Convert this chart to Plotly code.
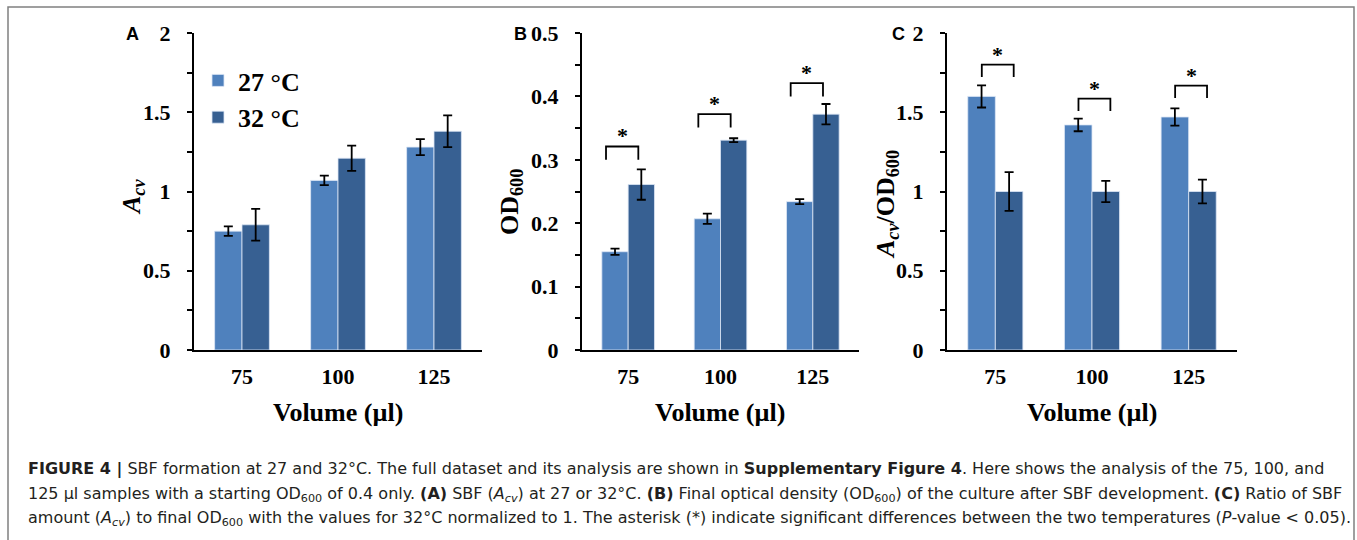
import plotly.graph_objects as go

categories = ["75", "100", "125"]
series_names = ["27 °C", "32 °C"]

# Panel A: Acv
a_27 = [0.75, 1.07, 1.28]
a_27_err = [0.03, 0.03, 0.05]
a_32 = [0.79, 1.21, 1.38]
a_32_err = [0.10, 0.08, 0.10]

# Panel B: OD600
b_27 = [0.155, 0.207, 0.234]
b_27_err = [0.005, 0.008, 0.004]
b_32 = [0.261, 0.331, 0.372]
b_32_err = [0.024, 0.003, 0.016]
b_bracket = [0.321, 0.372, 0.421]

# Panel C: Acv/OD600
c_27 = [1.60, 1.42, 1.47]
c_27_err = [0.07, 0.04, 0.054]
c_32 = [1.00, 1.00, 1.00]
c_32_err = [0.122, 0.067, 0.075]
c_bracket = [1.80, 1.586, 1.668]

W, H = 1357, 540
LIGHT = "#4F81BD"
DARK = "#376092"
SERIF = "Liberation Serif"
SANS = "Liberation Sans"
CAP_FONT = "DejaVu Sans"


def px(x):
    return x / W


def py(y):
    return 1 - y / H


fig = go.Figure()

panels = [
    dict(ax="", d27=a_27, e27=a_27_err, d32=a_32, e32=a_32_err, dom=(194, 482), rng=[0, 2], dt=0.5, mdt=0.25),
    dict(ax="2", d27=b_27, e27=b_27_err, d32=b_32, e32=b_32_err, dom=(582, 859), rng=[0, 0.5], dt=0.1, mdt=0.05),
    dict(ax="3", d27=c_27, e27=c_27_err, d32=c_32, e32=c_32_err, dom=(947, 1237), rng=[0, 2], dt=0.5, mdt=0.25),
]

for k, p in enumerate(panels):
    for name, vals, errs, col in [(series_names[0], p["d27"], p["e27"], LIGHT),
                                  (series_names[1], p["d32"], p["e32"], DARK)]:
        fig.add_trace(go.Bar(
            x=categories, y=vals, name=name,
            marker=dict(color=col, line=dict(color="rgba(220,230,245,0.8)", width=1)),
            error_y=dict(type="data", array=errs, visible=True, color="black", thickness=1.8, width=4.5),
            xaxis="x" + p["ax"], yaxis="y" + p["ax"],
            showlegend=(k == 0), legendgroup=name,
        ))

y_dom = [py(350), py(33)]
for k, p in enumerate(panels):
    xa = "xaxis" + p["ax"]
    ya = "yaxis" + p["ax"]
    fig.layout[xa] = dict(
        domain=[px(p["dom"][0]), px(p["dom"][1])], anchor="y" + p["ax"],
        type="category", categoryorder="array", categoryarray=categories,
        range=[-0.5, 2.5], showline=True, linecolor="black", linewidth=2,
        ticks="", showgrid=False, zeroline=False, automargin=False,
        tickfont=dict(family=SERIF, size=22, color="black", weight="bold"),
        ticklabelstandoff=6,
    )
    fig.layout[ya] = dict(
        domain=y_dom, anchor="x" + p["ax"], range=p["rng"], dtick=p["dt"], tick0=0,
        showline=True, linecolor="black", linewidth=2, ticks="outside", ticklen=5,
        tickwidth=1.5, tickcolor="black", showgrid=False, zeroline=False, automargin=False,
        minor=dict(dtick=p["mdt"], ticks="outside", ticklen=5, tickwidth=1.5, tickcolor="black", showgrid=False),
        tickfont=dict(family=SERIF, size=22, color="black", weight="bold"),
        ticklabelstandoff=12,
    )

shapes = []
annotations = []

# significance brackets
def add_brackets(xref, yref, tops, leg, left_off, right_off):
    for i, top in enumerate(tops):
        x0 = i + left_off
        x1 = i + right_off
        path = f"M {x0},{top - leg} L {x0},{top} L {x1},{top} L {x1},{top - leg}"
        shapes.append(dict(type="path", path=path, xref=xref, yref=yref,
                           line=dict(color="black", width=1.8)))
        annotations.append(dict(x=(x0 + x1) / 2, y=top, xref=xref, yref=yref, text="<b>*</b>",
                                showarrow=False, yanchor="bottom", yshift=-4,
                                font=dict(family=SERIF, size=22, color="black")))


add_brackets("x2", "y2", b_bracket, 0.021, -0.24, 0.11)
add_brackets("x3", "y3", c_bracket, 0.078, -0.14, 0.19)

# panel labels
for lab, x in [("A", 132), ("B", 520), ("C", 898)]:
    annotations.append(dict(x=px(x), y=py(34), xref="paper", yref="paper", text=f"<b>{lab}</b>",
                            showarrow=False, xanchor="center", yanchor="middle",
                            font=dict(family=SANS, size=18, color="black")))

# axis titles
for cx in [338, 720, 1092]:
    annotations.append(dict(x=px(cx), y=py(412), xref="paper", yref="paper",
                            text="<b>Volume (µl)</b>", showarrow=False, xanchor="center", yanchor="middle",
                            font=dict(family=SERIF, size=26, color="black")))

for txt, x, y in [("<b><i>A</i><sub><i>cv</i></sub></b>", 133, 197),
                  ("<b>OD<sub>600</sub></b>", 511, 202),
                  ("<b><i>A</i><sub><i>cv</i></sub>/OD<sub>600</sub></b>", 887, 205)]:
    annotations.append(dict(x=px(x), y=py(y), xref="paper", yref="paper", text=txt, textangle=-90,
                            showarrow=False, xanchor="center", yanchor="middle",
                            font=dict(family=SERIF, size=26, color="black")))

# caption
cap_lines = [
    "<b>FIGURE 4 |</b> SBF formation at 27 and 32°C. The full dataset and its analysis are shown in "
    "<b>Supplementary Figure 4</b>. Here shows the analysis of the 75, 100, and",
    "125 μl samples with a starting OD<sub>600</sub> of 0.4 only. <b>(A)</b> SBF (<i>A<sub>cv</sub></i>) "
    "at 27 or 32°C. <b>(B)</b> Final optical density (OD<sub>600</sub>) of the culture after SBF "
    "development. <b>(C)</b> Ratio of SBF",
    "amount (<i>A<sub>cv</sub></i>) to final OD<sub>600</sub> with the values for 32°C normalized to 1. "
    "The asterisk (*) indicate significant differences between the two temperatures (<i>P</i>-value &lt; 0.05).",
]
for line, y in zip(cap_lines, [469, 494, 518]):
    annotations.append(dict(x=px(26), y=py(y), xref="paper", yref="paper", text=line,
                            showarrow=False, xanchor="left", yanchor="middle",
                            font=dict(family=CAP_FONT, size=16, color="#231f20")))

# outer frame
shapes.append(dict(type="rect", xref="paper", yref="paper", x0=px(8), x1=px(1354), y0=-0.1, y1=py(7),
                   line=dict(color="#808080", width=1.5), fillcolor="rgba(0,0,0,0)"))

fig.update_layout(
    width=W, height=H, margin=dict(l=0, r=0, t=0, b=0, autoexpand=False),
    paper_bgcolor="white", plot_bgcolor="white",
    barmode="group", bargap=0.43, bargroupgap=0,
    shapes=shapes, annotations=annotations,
    legend=dict(x=px(198), y=py(57), xanchor="left", yanchor="top", bgcolor="rgba(0,0,0,0)",
                font=dict(family=SERIF, size=26, color="black", weight="bold"),
                tracegroupgap=0, itemwidth=30),
)

fig.write_html("out.html")
